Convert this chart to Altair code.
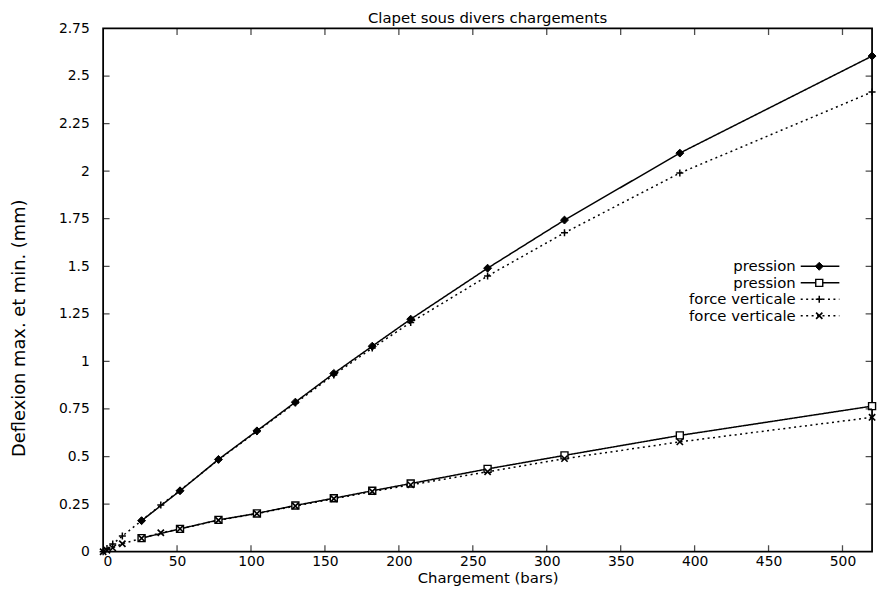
import altair as alt
import pandas as pd

# ---------------- data ----------------
chart_title = "Clapet sous divers chargements"
x_title = "Chargement (bars)"
y_title = "Deflexion max. et min. (mm)"

legend_labels = ["pression", "pression", "force verticale", "force verticale"]

# pression (max: filled diamonds, min: open squares)
p_x = [26, 52, 78, 104, 130, 156, 182, 208, 260, 312, 390, 520]
p_max = [0.163, 0.32, 0.485, 0.635, 0.786, 0.937, 1.08, 1.222, 1.49, 1.743, 2.095, 2.605]
p_min = [0.071, 0.12, 0.167, 0.201, 0.243, 0.281, 0.32, 0.358, 0.435, 0.506, 0.611, 0.765]

# force verticale (max: plus, min: cross)
f_x = [0, 2.6, 6.5, 13, 26, 39, 52, 78, 104, 130, 156, 182, 208, 260, 312, 390, 520]
f_max = [0, 0.016, 0.04, 0.082, 0.163, 0.245, 0.322, 0.483, 0.632, 0.781, 0.929, 1.07,
         1.205, 1.449, 1.676, 1.99, 2.416]
f_min = [0, 0.008, 0.02, 0.042, 0.07, 0.099, 0.12, 0.165, 0.2, 0.24, 0.278, 0.316,
         0.351, 0.42, 0.489, 0.577, 0.706]

x_ticks = [0, 50, 100, 150, 200, 250, 300, 350, 400, 450, 500]
y_ticks = [0, 0.25, 0.5, 0.75, 1, 1.25, 1.5, 1.75, 2, 2.25, 2.5, 2.75]

# ---------------- styling ----------------
W, H = 776, 528
FONT = "DejaVu Sans"
FS = 15

PLUS = "M-1,0L1,0M0,-1L0,1"
CROSS = "M-1,-1L1,1M-1,1L1,-1"
SOLID = [1, 0]
DOTTED = [2, 3.5]

series = [
    dict(xs=p_x, ys=p_max, dash=SOLID, shape="diamond", filled=True, fill="black", size=64, sw=1),
    dict(xs=p_x, ys=p_min, dash=SOLID, shape="square", filled=True, fill="white", size=50, sw=1.4),
    dict(xs=f_x, ys=f_max, dash=DOTTED, shape=PLUS, filled=False, fill=None, size=50, sw=1.5),
    dict(xs=f_x, ys=f_min, dash=DOTTED, shape=CROSS, filled=False, fill=None, size=40, sw=1.7),
]

X = alt.X("x:Q", scale=alt.Scale(domain=[0, 520], nice=False, zero=False),
          axis=alt.Axis(values=x_ticks, title=x_title, labelPadding=3, titlePadding=2,
                        labelFontSize=14, titleFontSize=15))
Y = alt.Y("y:Q", scale=alt.Scale(domain=[0, 2.75], nice=False, zero=False),
          axis=alt.Axis(values=y_ticks, format=".2~f", title=y_title, labelFontSize=14,
                        labelPadding=14, titlePadding=30, titleFontSize=18, titleY=302))

layers = []
# lines (dotted first, solid on top)
for s in [series[2], series[3], series[0], series[1]]:
    df = pd.DataFrame({"x": s["xs"], "y": s["ys"]})
    layers.append(alt.Chart(df).mark_line(color="black", strokeWidth=1.5,
                                          strokeDash=s["dash"]).encode(x=X, y=Y))
# markers
for s in series:
    df = pd.DataFrame({"x": s["xs"], "y": s["ys"]})
    kw = dict(shape=s["shape"], size=s["size"], stroke="black", strokeWidth=s["sw"],
              opacity=1, filled=s["filled"])
    if s["fill"]:
        kw["fill"] = s["fill"]
    layers.append(alt.Chart(df).mark_point(**kw).encode(x=X, y=Y))

# inward ticks on all four sides (clipped half of a centred tick)
xt = pd.DataFrame({"x": x_ticks})
yt = pd.DataFrame({"y": y_ticks})
for ypix in [H, 0]:
    layers.append(alt.Chart(xt).mark_tick(color="black", thickness=1.3, size=13, clip=True)
                  .encode(x=X, y=alt.value(ypix)))
for xpix in [0, W]:
    layers.append(alt.Chart(yt).mark_tick(color="black", thickness=1.3, size=13, clip=True)
                  .encode(y=Y, x=alt.value(xpix)))

# legend (gnuplot style: label, line sample, marker)
leg_y = [240, 256.7, 273.3, 290]
for i, s in enumerate(series):
    ldf = pd.DataFrame({"label": [legend_labels[i]]})
    base = alt.Chart(ldf)
    layers.append(base.mark_text(align="right", baseline="middle", font=FONT, fontSize=FS,
                                 color="black")
                  .encode(text="label:N", x=alt.value(699), y=alt.value(leg_y[i])))
    layers.append(base.mark_rule(color="black", strokeWidth=1.5, strokeDash=s["dash"])
                  .encode(x=alt.value(704), x2=alt.value(743), y=alt.value(leg_y[i])))
    kw = dict(shape=s["shape"], size=s["size"], stroke="black", strokeWidth=s["sw"],
              opacity=1, filled=s["filled"])
    if s["fill"]:
        kw["fill"] = s["fill"]
    layers.append(base.mark_point(**kw).encode(x=alt.value(722.7), y=alt.value(leg_y[i])))

chart = (
    alt.layer(*layers)
    .properties(
        width=W, height=H,
        title=alt.TitleParams(chart_title, font=FONT, fontSize=FS, fontWeight="normal",
                              anchor="middle", offset=-4, color="black"),
        padding={"left": 2, "top": 0, "right": 0, "bottom": 0},
    )
    .configure_view(stroke="black", strokeWidth=1.8)
    .configure_axis(labelFont=FONT, labelFontSize=FS, titleFont=FONT, titleFontSize=FS,
                    titleFontWeight="normal", labelColor="black", titleColor="black",
                    domain=False, ticks=False, grid=False)
)

chart.save("out.html", embed_options={"renderer": "svg", "actions": False})
